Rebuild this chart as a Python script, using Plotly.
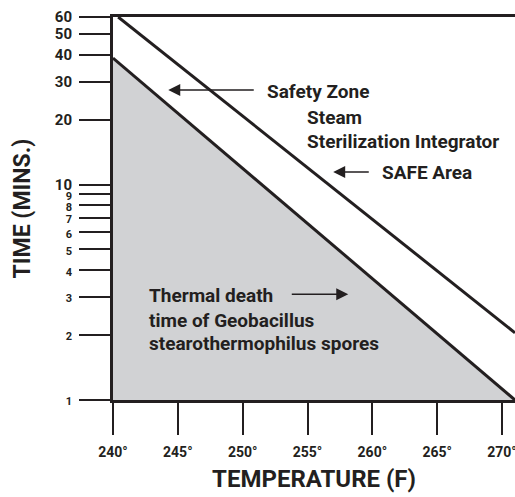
import math
import plotly.graph_objects as go

# ---- data ----
temp_range = [240, 271]
time_max = 60

safety_line_temp = [240.4, 271]
safety_line_time = [60, 2.05]

death_line_temp = [240, 271]
death_line_time = [38.7, 1.0]

death_area_temp = [240, 240, 271, 240]
death_area_time = [1.0, 38.7, 1.0, 1.0]

x_ticks = [240, 245, 250, 255, 260, 265, 270]
x_tick_labels = [f"{t}°" for t in x_ticks]

y_ticks = [1, 2, 3, 4, 5, 6, 7, 8, 9, 10, 20, 30, 40, 50, 60]
y_big = {10, 20, 30, 40, 50, 60}

INK = "#231f20"
GRAY = "#d1d2d4"
FONT = "Roboto"


def ylab(v):
    if v in y_big:
        return f"<b>{v}</b>"
    return f"<span style='font-size:11px'><b>{v}</b></span>"


y_tick_labels = [ylab(v) for v in y_ticks]

fig = go.Figure()

fig.add_trace(go.Scatter(
    x=death_area_temp, y=death_area_time, mode="lines", fill="toself",
    fillcolor=GRAY, line=dict(width=0), hoverinfo="skip", showlegend=False))

fig.add_trace(go.Scatter(
    x=death_line_temp, y=death_line_time, mode="lines",
    line=dict(color=INK, width=3), showlegend=False))

fig.add_trace(go.Scatter(
    x=safety_line_temp, y=safety_line_time, mode="lines",
    line=dict(color=INK, width=3), showlegend=False))

txt = dict(family=FONT, size=19, color=INK, weight="bold")

labels = [
    ("Safety Zone", 251.74, 27.2),
    ("Steam", 254.83, 20.6),
    ("Sterilization Integrator", 254.83, 15.9),
    ("SAFE Area", 260.6, 11.44),
    ("Thermal death", 242.64, 3.04),
    ("time of Geobacillus", 242.64, 2.35),
    ("stearothermophilus spores", 242.64, 1.82),
]
for t, x, y in labels:
    fig.add_annotation(x=x, y=math.log10(y), text=t, showarrow=False,
                       xanchor="left", yanchor="middle", font=txt)

arrows = [
    # (tip_x, tip_y, tail_x, tail_y)
    (244.26, 27.5, 250.97, 27.5),
    (256.98, 11.44, 259.84, 11.44),
    (258.14, 3.10, 253.67, 3.10),
]
for tx, ty, sx, sy in arrows:
    fig.add_annotation(x=tx, y=math.log10(ty), ax=sx, ay=math.log10(sy),
                       axref="x", ayref="y", xref="x", yref="y",
                       text="", showarrow=True, arrowhead=2, arrowsize=1.6,
                       arrowwidth=1.5, arrowcolor=INK)

fig.update_layout(
    width=515, height=497,
    margin=dict(l=113, r=0, t=17, b=97),
    paper_bgcolor="white", plot_bgcolor="white",
    font=dict(family=FONT, color=INK),
)

fig.update_xaxes(
    range=temp_range, showgrid=False, zeroline=False, automargin=False,
    showline=True, linewidth=3, linecolor=INK, mirror=True,
    tickmode="array", tickvals=x_ticks, ticktext=x_tick_labels,
    ticks="outside", ticklen=32, tickwidth=2, tickcolor=INK,
    ticklabelstandoff=5, ticklabeloverflow="allow",
    tickfont=dict(family=FONT, size=14, color=INK, weight="bold"),
    title=dict(text="TEMPERATURE (F)", standoff=12,
               font=dict(family=FONT, size=24, color=INK, weight="bold")),
)

fig.update_yaxes(
    type="log", range=[0, math.log10(time_max)], showgrid=False, zeroline=False,
    automargin=False,
    showline=True, linewidth=3, linecolor=INK, mirror=False,
    tickmode="array", tickvals=y_ticks, ticktext=y_tick_labels,
    ticks="outside", ticklen=31, tickwidth=2, tickcolor=INK,
    ticklabelstandoff=4, ticklabeloverflow="allow",
    tickfont=dict(family=FONT, size=15, color=INK),
    title=dict(text="TIME (MINS.)", standoff=18,
               font=dict(family=FONT, size=23, color=INK, weight="bold")),
)

fig.write_html(
    "out.html",
    config={"displayModeBar": False},
    post_script="document.body.style.margin='0';document.body.style.overflow='hidden';",
)
